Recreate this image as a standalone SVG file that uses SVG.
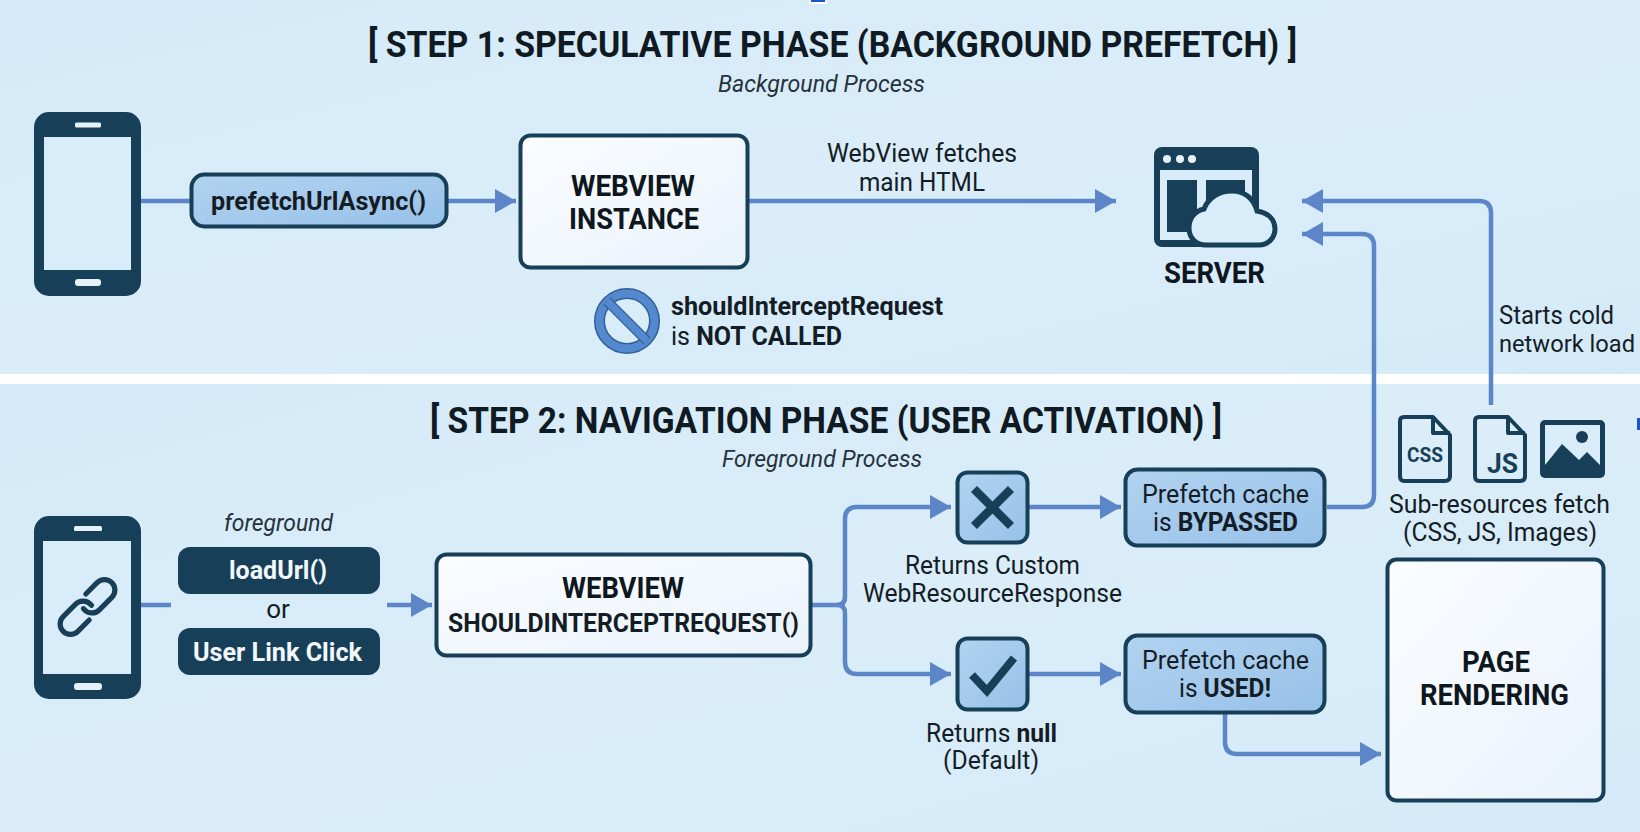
<svg xmlns="http://www.w3.org/2000/svg" width="1640" height="832" viewBox="0 0 1640 832">
<style>
text{font-family:Roboto,"Liberation Sans",sans-serif;fill:#141d25;font-size:26px}
.t{font-size:37px;font-weight:700;fill:#101a22}
.s{font-size:24px;font-style:italic;fill:#26323c}
.b{font-size:30px;font-weight:700;fill:#0f171e}
.m{font-weight:700}
.w{fill:#f2f8fc;font-weight:700}
.d{fill:#173f58}
.o{fill:none;stroke:#173f58;stroke-width:4;stroke-linejoin:round}
.box{fill:url(#white);stroke:#173f58;stroke-width:4}
.pill{fill:url(#blue);stroke:#173f58;stroke-width:4}
.scr{fill:#d8ecf9}
.c{fill:none;stroke:#5d86c9;stroke-width:4.5;stroke-linejoin:round}
.a{marker-end:url(#head)}
</style>
<defs>
<linearGradient id="bg" x1="0" y1="0" x2="1" y2="1"><stop offset="0" stop-color="#d5eaf8"/><stop offset=".5" stop-color="#daedf9"/><stop offset="1" stop-color="#d5eaf8"/></linearGradient>
<linearGradient id="white" x1="0" y1="0" x2="1" y2="1"><stop offset="0" stop-color="#fbfdff"/><stop offset="1" stop-color="#e9f2fb"/></linearGradient>
<linearGradient id="blue" x1="0" y1="0" x2="1" y2="1"><stop offset="0" stop-color="#b2d3f0"/><stop offset="1" stop-color="#97c1e9"/></linearGradient>
<marker id="head" markerUnits="userSpaceOnUse" markerWidth="21" markerHeight="24" viewBox="0 0 21 24" refX="21" refY="12" orient="auto"><path d="M0 0L21 12L0 24Z" fill="#5d86c9"/></marker>
</defs>
<rect width="1640" height="832" fill="#fff"/>
<rect id="panel1" x="0" y="0" width="1640" height="374" fill="url(#bg)"/>
<rect id="panel2" x="0" y="384" width="1640" height="448" fill="url(#bg)"/>
<rect x="809" y="0" width="18" height="4" fill="#fff"/><rect x="811" y="0" width="14" height="2" fill="#1658c8"/>
<rect x="1637" y="418" width="3" height="12" fill="#1658c8"/>

<text class="t" x="368" y="57" textLength="929" lengthAdjust="spacingAndGlyphs">[ STEP 1: SPECULATIVE PHASE (BACKGROUND PREFETCH) ]</text>
<text class="s" x="718" y="92" textLength="207" lengthAdjust="spacingAndGlyphs">Background Process</text>
<text class="t" x="430" y="433" textLength="792" lengthAdjust="spacingAndGlyphs">[ STEP 2: NAVIGATION PHASE (USER ACTIVATION) ]</text>
<text class="s" x="722" y="467" textLength="200" lengthAdjust="spacingAndGlyphs">Foreground Process</text>

<g id="connectors">
<path class="c" d="M141 201H192"/>
<path class="c a" d="M448 201H516"/>
<path class="c a" d="M749 201H1116"/>
<path class="c a" d="M1491 405V213Q1491 201 1479 201H1302"/>
<path class="c a" d="M1327 507H1362Q1374 507 1374 495V246Q1374 234 1362 234H1302"/>
<path class="c" d="M141 605H171"/>
<path class="c a" d="M387 605H432"/>
<path class="c" d="M812 605H837Q845 605 845 597"/>
<path class="c a" d="M837 605Q845 605 845 597V519Q845 507 857 507H951"/>
<path class="c a" d="M837 605Q845 605 845 613V662Q845 674 857 674H951"/>
<path class="c a" d="M1029 507H1121"/>
<path class="c a" d="M1029 674H1121"/>
<path class="c a" d="M1225 714V742Q1225 754 1237 754H1381"/>
</g>

<g id="phone1">
<rect class="d" x="34" y="112" width="107" height="184" rx="15"/>
<rect class="scr" x="44" y="137" width="87" height="133"/>
<rect x="75" y="122.500" width="26" height="5" rx="1.500" fill="#e6f1f9"/>
<rect x="75" y="279" width="26" height="7" rx="3" fill="#e6f1f9"/>
</g>
<g id="prefetchUrlAsync">
<rect class="pill" x="191.500" y="174.500" width="255" height="52" rx="13"/>
<text class="m" x="211" y="210" textLength="215" lengthAdjust="spacingAndGlyphs">prefetchUrlAsync()</text>
</g>
<g id="webview-instance">
<rect class="box" x="520.500" y="135.500" width="227" height="132" rx="10"/>
<text class="b" x="571" y="196" textLength="124" lengthAdjust="spacingAndGlyphs">WEBVIEW</text>
<text class="b" x="569" y="229" textLength="130" lengthAdjust="spacingAndGlyphs">INSTANCE</text>
</g>
<g id="not-called">
<circle cx="627" cy="321" r="27.500" fill="none" stroke="#335f97" stroke-width="11"/>
<circle cx="627" cy="321" r="27.500" fill="none" stroke="#5589cf" stroke-width="8"/>
<path d="M607 301L647 341" stroke="#335f97" stroke-width="10"/>
<path d="M607 301L647 341" stroke="#5589cf" stroke-width="7.500"/>
<text class="m" x="671" y="315" textLength="272" lengthAdjust="spacingAndGlyphs">shouldInterceptRequest</text>
<text x="671" y="345" textLength="171" lengthAdjust="spacingAndGlyphs">is <tspan class="m">NOT CALLED</tspan></text>
</g>
<g id="fetch-label">
<text x="827" y="162" textLength="190" lengthAdjust="spacingAndGlyphs">WebView fetches</text>
<text x="859" y="191" textLength="126" lengthAdjust="spacingAndGlyphs">main HTML</text>
</g>
<g id="server">
<rect class="d" x="1154" y="147" width="105" height="100" rx="8"/>
<rect class="scr" x="1160" y="170" width="92" height="70"/>
<circle cx="1167" cy="159" r="4" fill="#e6f1f9"/><circle cx="1180" cy="159" r="4" fill="#e6f1f9"/><circle cx="1192" cy="159" r="4" fill="#e6f1f9"/>
<rect class="d" x="1167" y="180" width="30" height="52"/>
<rect class="d" x="1206" y="180" width="39" height="30"/>
<path d="M1206 245C1196 245 1189 238 1189 228C1189 218 1195 211 1204 209C1208 198 1219 191 1232 191C1245 191 1254 199 1257 211C1268 213 1275 219 1275 229C1275 238 1268 245 1259 245Z" class="scr" stroke="#173f58" stroke-width="5"/>
<text class="b" x="1164" y="283" textLength="101" lengthAdjust="spacingAndGlyphs">SERVER</text>
</g>
<g id="cold-label">
<text x="1499" y="324" textLength="115" lengthAdjust="spacingAndGlyphs">Starts cold</text>
<text x="1499" y="352" textLength="136" lengthAdjust="spacingAndGlyphs" style="font-size:24.500px">network load</text>
</g>

<g id="phone2">
<rect class="d" x="34" y="516" width="107" height="183" rx="15"/>
<rect class="scr" x="43" y="541" width="88" height="133"/>
<rect x="74" y="526" width="28" height="5" rx="1.500" fill="#e6f1f9"/>
<rect x="74" y="683" width="28" height="7" rx="3" fill="#e6f1f9"/>
<g transform="translate(87.500 607) rotate(-45) scale(.8)" fill="none" stroke="#173f58" stroke-width="6.500" stroke-linecap="round">
<path d="M-10 13H-30A13 13 0 0 1 -30 -13H-8A13 13 0 0 1 5 2"/>
<path d="M10 -13H30A13 13 0 0 1 30 13H8A13 13 0 0 1 -5 -2"/>
</g>
</g>
<g id="actions">
<text class="s" x="224" y="531" textLength="109" lengthAdjust="spacingAndGlyphs">foreground</text>
<rect class="d" x="178" y="547" width="202" height="47" rx="12"/>
<text class="w" x="229" y="579" textLength="98" lengthAdjust="spacingAndGlyphs">loadUrl()</text>
<text x="278" y="618" text-anchor="middle">or</text>
<rect class="d" x="178" y="628" width="202" height="47" rx="12"/>
<text class="w" x="193" y="661" textLength="169" lengthAdjust="spacingAndGlyphs">User Link Click</text>
</g>
<g id="webview-should">
<rect class="box" x="436.500" y="554.500" width="374" height="101" rx="10"/>
<text class="b" x="562" y="598" textLength="122" lengthAdjust="spacingAndGlyphs">WEBVIEW</text>
<text class="m" x="448" y="632" textLength="351" lengthAdjust="spacingAndGlyphs">SHOULDINTERCEPTREQUEST()</text>
</g>
<g id="custom">
<rect class="pill" x="957.500" y="472.500" width="70" height="70" rx="10"/>
<path d="M974 489L1011 526M1011 489L974 526" stroke="#173f58" stroke-width="8.500" fill="none"/>
<text x="905" y="574" textLength="175" lengthAdjust="spacingAndGlyphs">Returns Custom</text>
<text x="863" y="602" textLength="259" lengthAdjust="spacingAndGlyphs">WebResourceResponse</text>
</g>
<g id="null">
<rect class="pill" x="957.500" y="638.500" width="70" height="71" rx="10"/>
<path d="M972 675L987 691L1014 658" stroke="#173f58" stroke-width="8" fill="none"/>
<text x="926" y="742" textLength="131" lengthAdjust="spacingAndGlyphs">Returns <tspan class="m">null</tspan></text>
<text x="943" y="769" textLength="96" lengthAdjust="spacingAndGlyphs">(Default)</text>
</g>
<g id="bypassed">
<rect class="pill" x="1125.500" y="469.500" width="199" height="76" rx="12"/>
<text x="1142" y="503" textLength="167" lengthAdjust="spacingAndGlyphs">Prefetch cache</text>
<text x="1153" y="531" textLength="145" lengthAdjust="spacingAndGlyphs">is <tspan class="m">BYPASSED</tspan></text>
</g>
<g id="used">
<rect class="pill" x="1125.500" y="635.500" width="199" height="77" rx="12"/>
<text x="1142" y="669" textLength="167" lengthAdjust="spacingAndGlyphs">Prefetch cache</text>
<text x="1179" y="697" textLength="92" lengthAdjust="spacingAndGlyphs">is <tspan class="m">USED!</tspan></text>
</g>
<g id="page-rendering">
<rect class="box" x="1387.500" y="559.500" width="216" height="241" rx="9"/>
<text class="b" x="1462" y="672" textLength="68" lengthAdjust="spacingAndGlyphs">PAGE</text>
<text class="b" x="1420" y="705" textLength="149" lengthAdjust="spacingAndGlyphs">RENDERING</text>
</g>
<g id="subresources">
<path class="o" d="M1404 417H1433L1450 435V476Q1450 481 1445 481H1404Q1400 481 1400 476V421Q1400 417 1404 417ZM1433 417V433H1450"/>
<text x="1407" y="462" textLength="36" lengthAdjust="spacingAndGlyphs" style="font-size:20px;font-weight:700;fill:#173f58">CSS</text>
<path class="o" d="M1479 417H1508L1525 435V476Q1525 481 1520 481H1479Q1475 481 1475 476V421Q1475 417 1479 417ZM1508 417V433H1525"/>
<text x="1487" y="473" textLength="31" lengthAdjust="spacingAndGlyphs" style="font-size:27px;font-weight:700;fill:#173f58">JS</text>
<rect class="d" x="1540" y="420" width="65" height="58" rx="5"/>
<path class="scr" d="M1545 425H1600V465L1587 452L1579 460L1562 444L1545 465Z"/>
<circle cx="1582" cy="437" r="6" class="d"/>
<text x="1389" y="513" textLength="221" lengthAdjust="spacingAndGlyphs">Sub-resources fetch</text>
<text x="1403" y="541" textLength="194" lengthAdjust="spacingAndGlyphs">(CSS, JS, Images)</text>
</g>
</svg>
